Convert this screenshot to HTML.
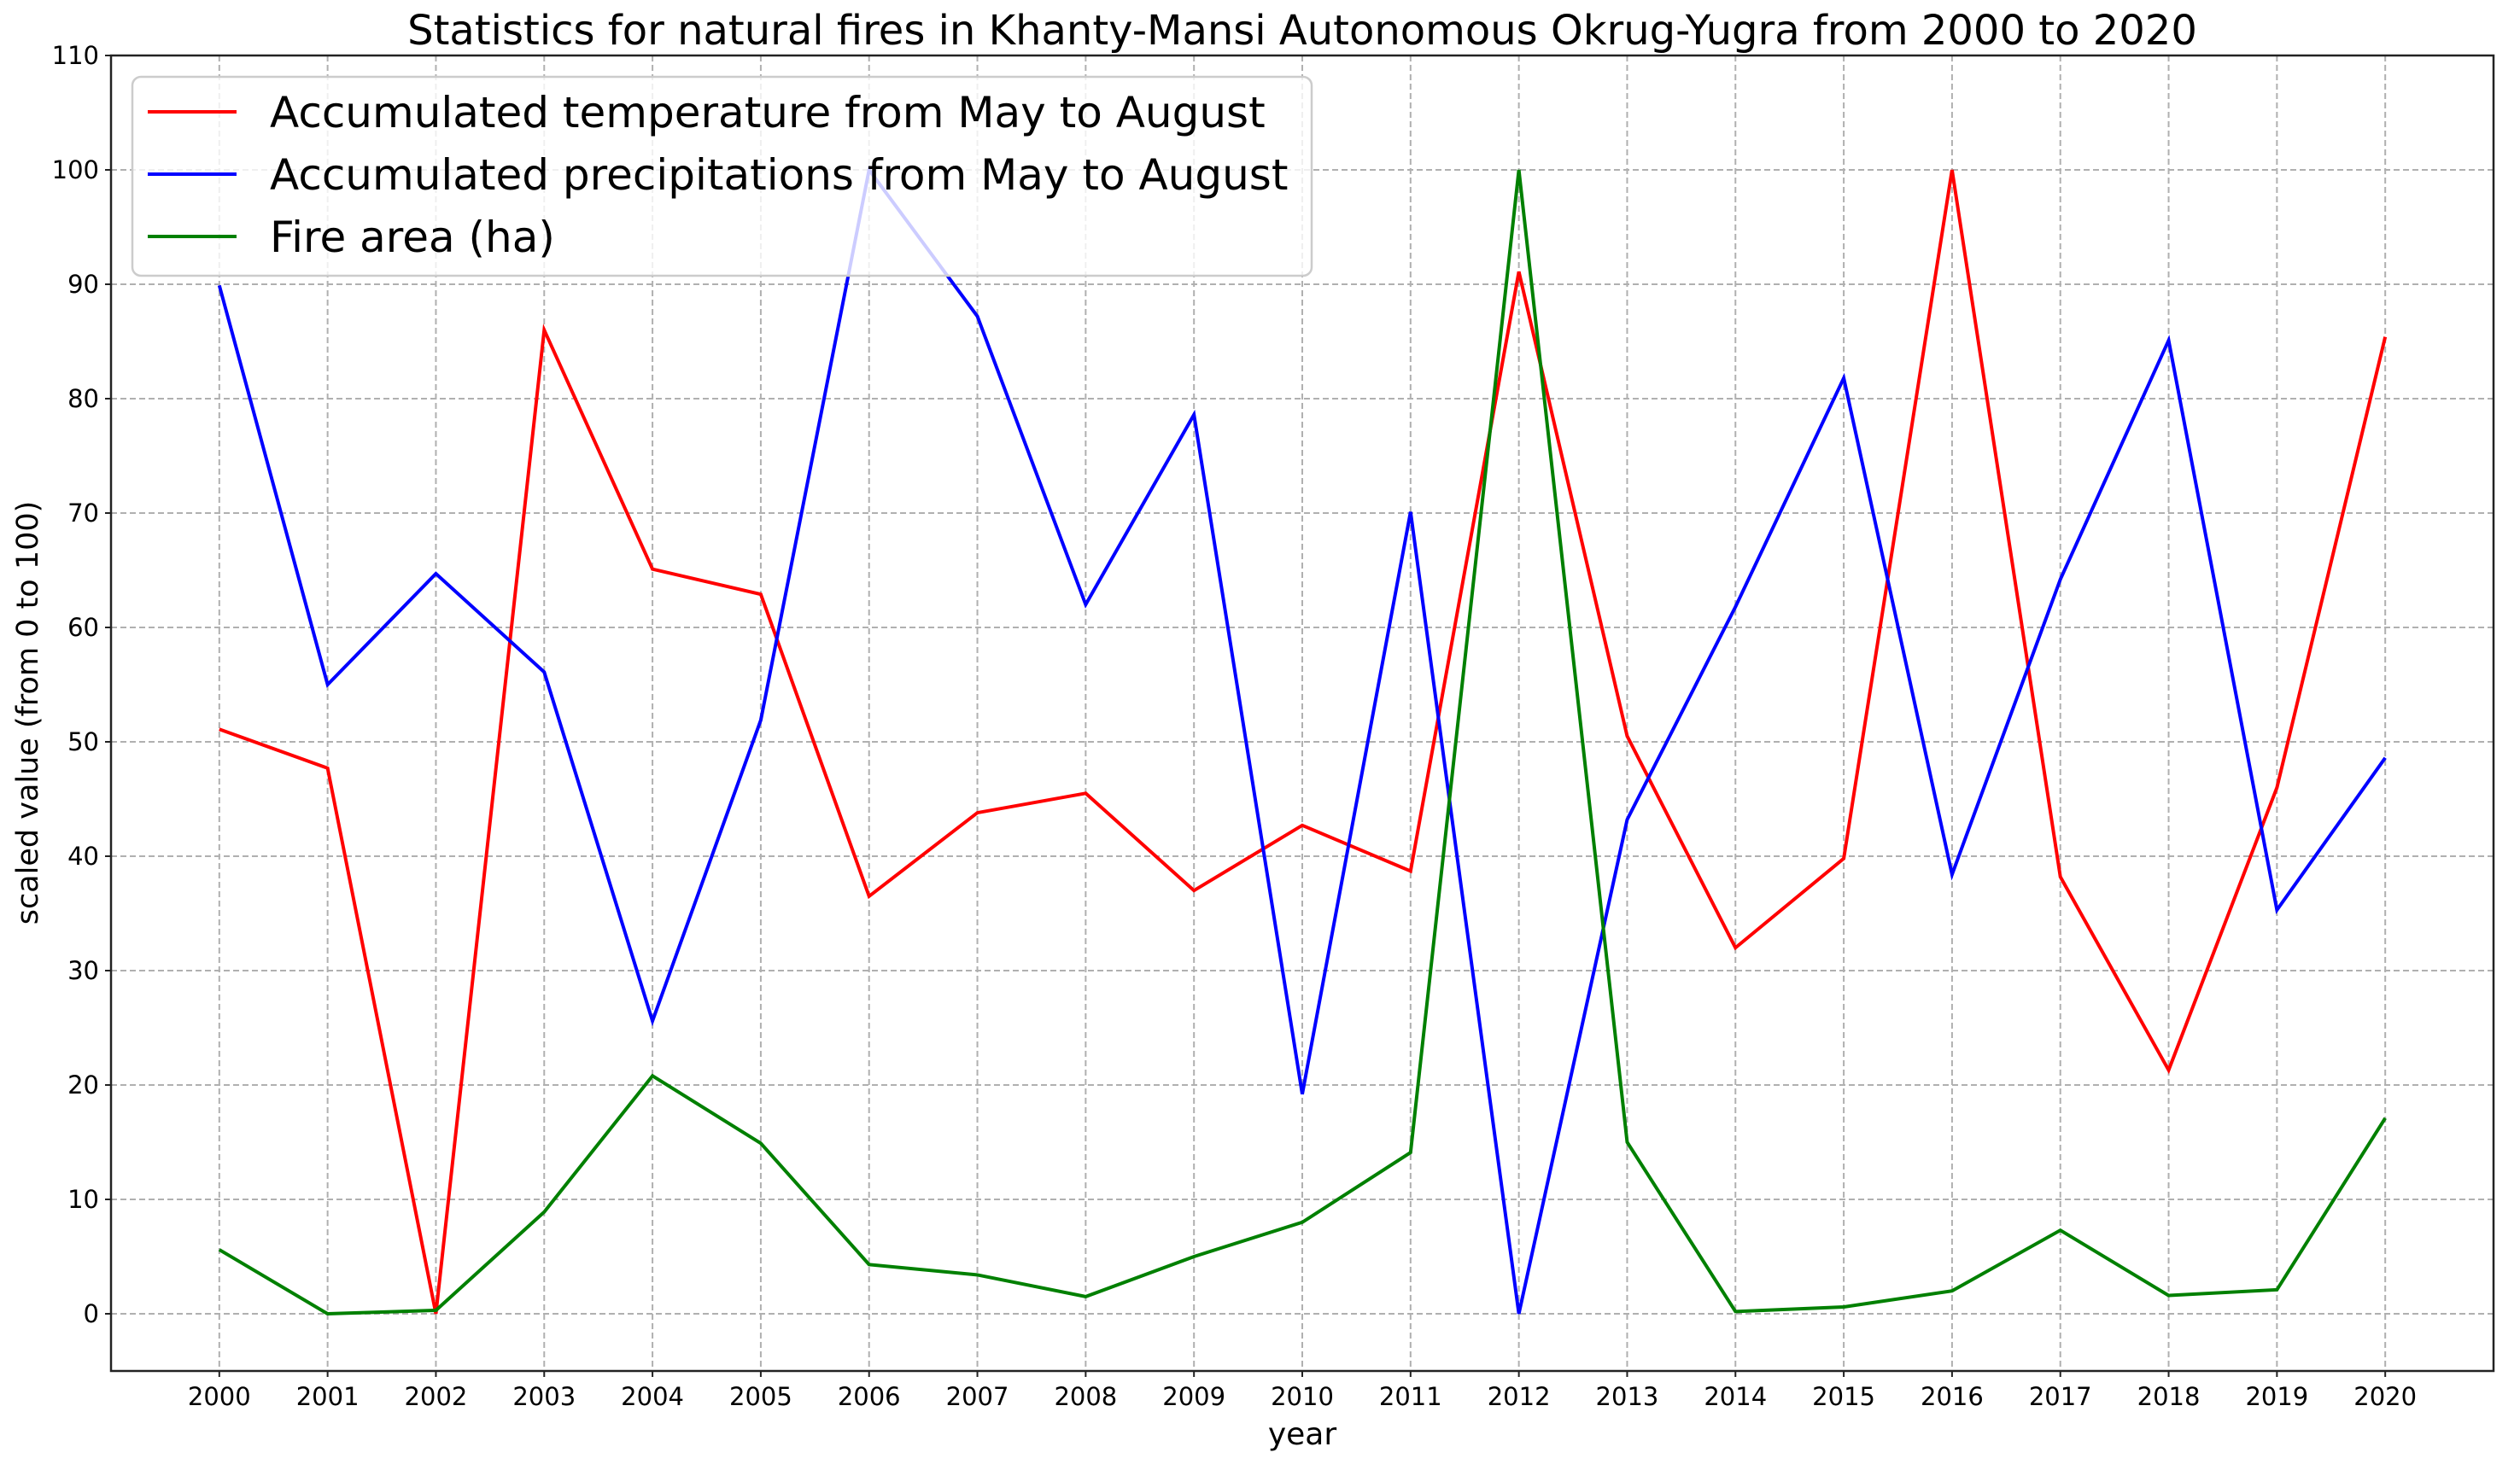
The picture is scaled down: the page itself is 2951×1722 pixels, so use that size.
<!DOCTYPE html>
<html><head><meta charset="utf-8"><style>
html,body{margin:0;padding:0;background:#fff}
svg{display:block;font-family:"DejaVu Sans","Liberation Sans",sans-serif}
</style></head><body>
<svg id="chart" width="2951" height="1722" viewBox="0 0 2951 1722">
<rect width="2951" height="1722" fill="#fff"/>
<g id="grid"></g><g id="series"></g><g id="axes"></g><g id="legend"></g>
<text x="1525" y="52" font-size="48" text-anchor="middle">Statistics for natural fires in Khanty-Mansi Autonomous Okrug-Yugra from 2000 to 2020</text>
<text x="1525" y="1692" font-size="36" text-anchor="middle">year</text>
<text transform="translate(44,835) rotate(-90)" font-size="35" text-anchor="middle">scaled value (from 0 to 100)</text>
</svg>
<script>
const years = [2000,2001,2002,2003,2004,2005,2006,2007,2008,2009,2010,2011,2012,2013,2014,2015,2016,2017,2018,2019,2020];
const temperature = [51.1,47.7,0,86,65.1,62.9,36.5,43.8,45.5,37,42.7,38.7,91.1,50.5,32,39.8,100,38.2,21.3,46,85.4];
const precipitation = [89.9,55,64.7,56.1,25.6,51.9,100,87.2,62,78.6,19.2,70.1,0,43.2,61.8,81.8,38.4,64.2,85.1,35.3,48.6];
const fireArea = [5.6,0,0.3,8.9,20.8,14.9,4.3,3.4,1.5,5,8,14.1,100,15,0.2,0.6,2,7.3,1.6,2.1,17.1];
const yTicks = [0,10,20,30,40,50,60,70,80,90,100,110];
const seriesNames = ["Accumulated temperature from May to August","Accumulated precipitations from May to August","Fire area (ha)"];

const NS="http://www.w3.org/2000/svg";
const L=130,R=2920,T=65,B=1606;
const xMin=1999,xMax=2021,yMin=-5,yMax=110;
const xs=v=>L+(v-xMin)/(xMax-xMin)*(R-L);
const ys=v=>B-(v-yMin)/(yMax-yMin)*(B-T);
function mk(tag,attrs,parent){const e=document.createElementNS(NS,tag);for(const k in attrs)e.setAttribute(k,attrs[k]);parent.appendChild(e);return e;}
const grid=document.getElementById('grid'),axes=document.getElementById('axes'),ser=document.getElementById('series'),leg=document.getElementById('legend');
years.forEach(y=>{
  const x=xs(y);
  const g=mk('line',{x1:x,x2:x,y1:T,y2:B,stroke:'#b0b0b0','stroke-width':2,'stroke-dasharray':'7,4'},grid);
  
  
  const t=mk('line',{x1:x,x2:x,y1:B,y2:B+7,stroke:'#222','stroke-width':2},axes);
  
  
  const lb=mk('text',{x:x,y:B+40,'font-size':29,'text-anchor':'middle'},axes);
  lb.textContent=y;
  
  
});
yTicks.forEach(v=>{
  const y=ys(v);
  const g=mk('line',{x1:L,x2:R,y1:y,y2:y,stroke:'#b0b0b0','stroke-width':2,'stroke-dasharray':'7,4'},grid);
  
  
  const t=mk('line',{x1:L-7,x2:L,y1:y,y2:y,stroke:'#222','stroke-width':2},axes);
  
  
  const lb=mk('text',{x:L-14,y:y+10,'font-size':29,'text-anchor':'end'},axes);
  lb.textContent=v;
  
  
});
const frame=mk('rect',{x:L,y:T,width:R-L,height:B-T,fill:'none',stroke:'#222','stroke-width':2.5},axes);


const data=[[temperature,'#ff0000','temperature-line'],[precipitation,'#0000ff','precipitation-line'],[fireArea,'#008000','fire-area-line']];
data.forEach(d=>{
  const p=mk('polyline',{points:d[0].map((v,i)=>xs(years[i])+','+ys(v)).join(' '),fill:'none',stroke:d[1],'stroke-width':4,'stroke-linejoin':'miter'},ser);
  
  
});
const box=mk('rect',{x:155,y:90,width:1381,height:233,rx:10,fill:'#fff','fill-opacity':0.8,stroke:'#cccccc','stroke-width':2.5},leg);


seriesNames.forEach((n,i)=>{
  const y=131+i*73;
  const ln=mk('line',{x1:173,x2:277,y1:y,y2:y,stroke:data[i][1],'stroke-width':4},leg);
  
  
  const t=mk('text',{x:316,y:y+18,'font-size':50},leg);
  t.textContent=n;
  
  
});
</script>
</body></html>
